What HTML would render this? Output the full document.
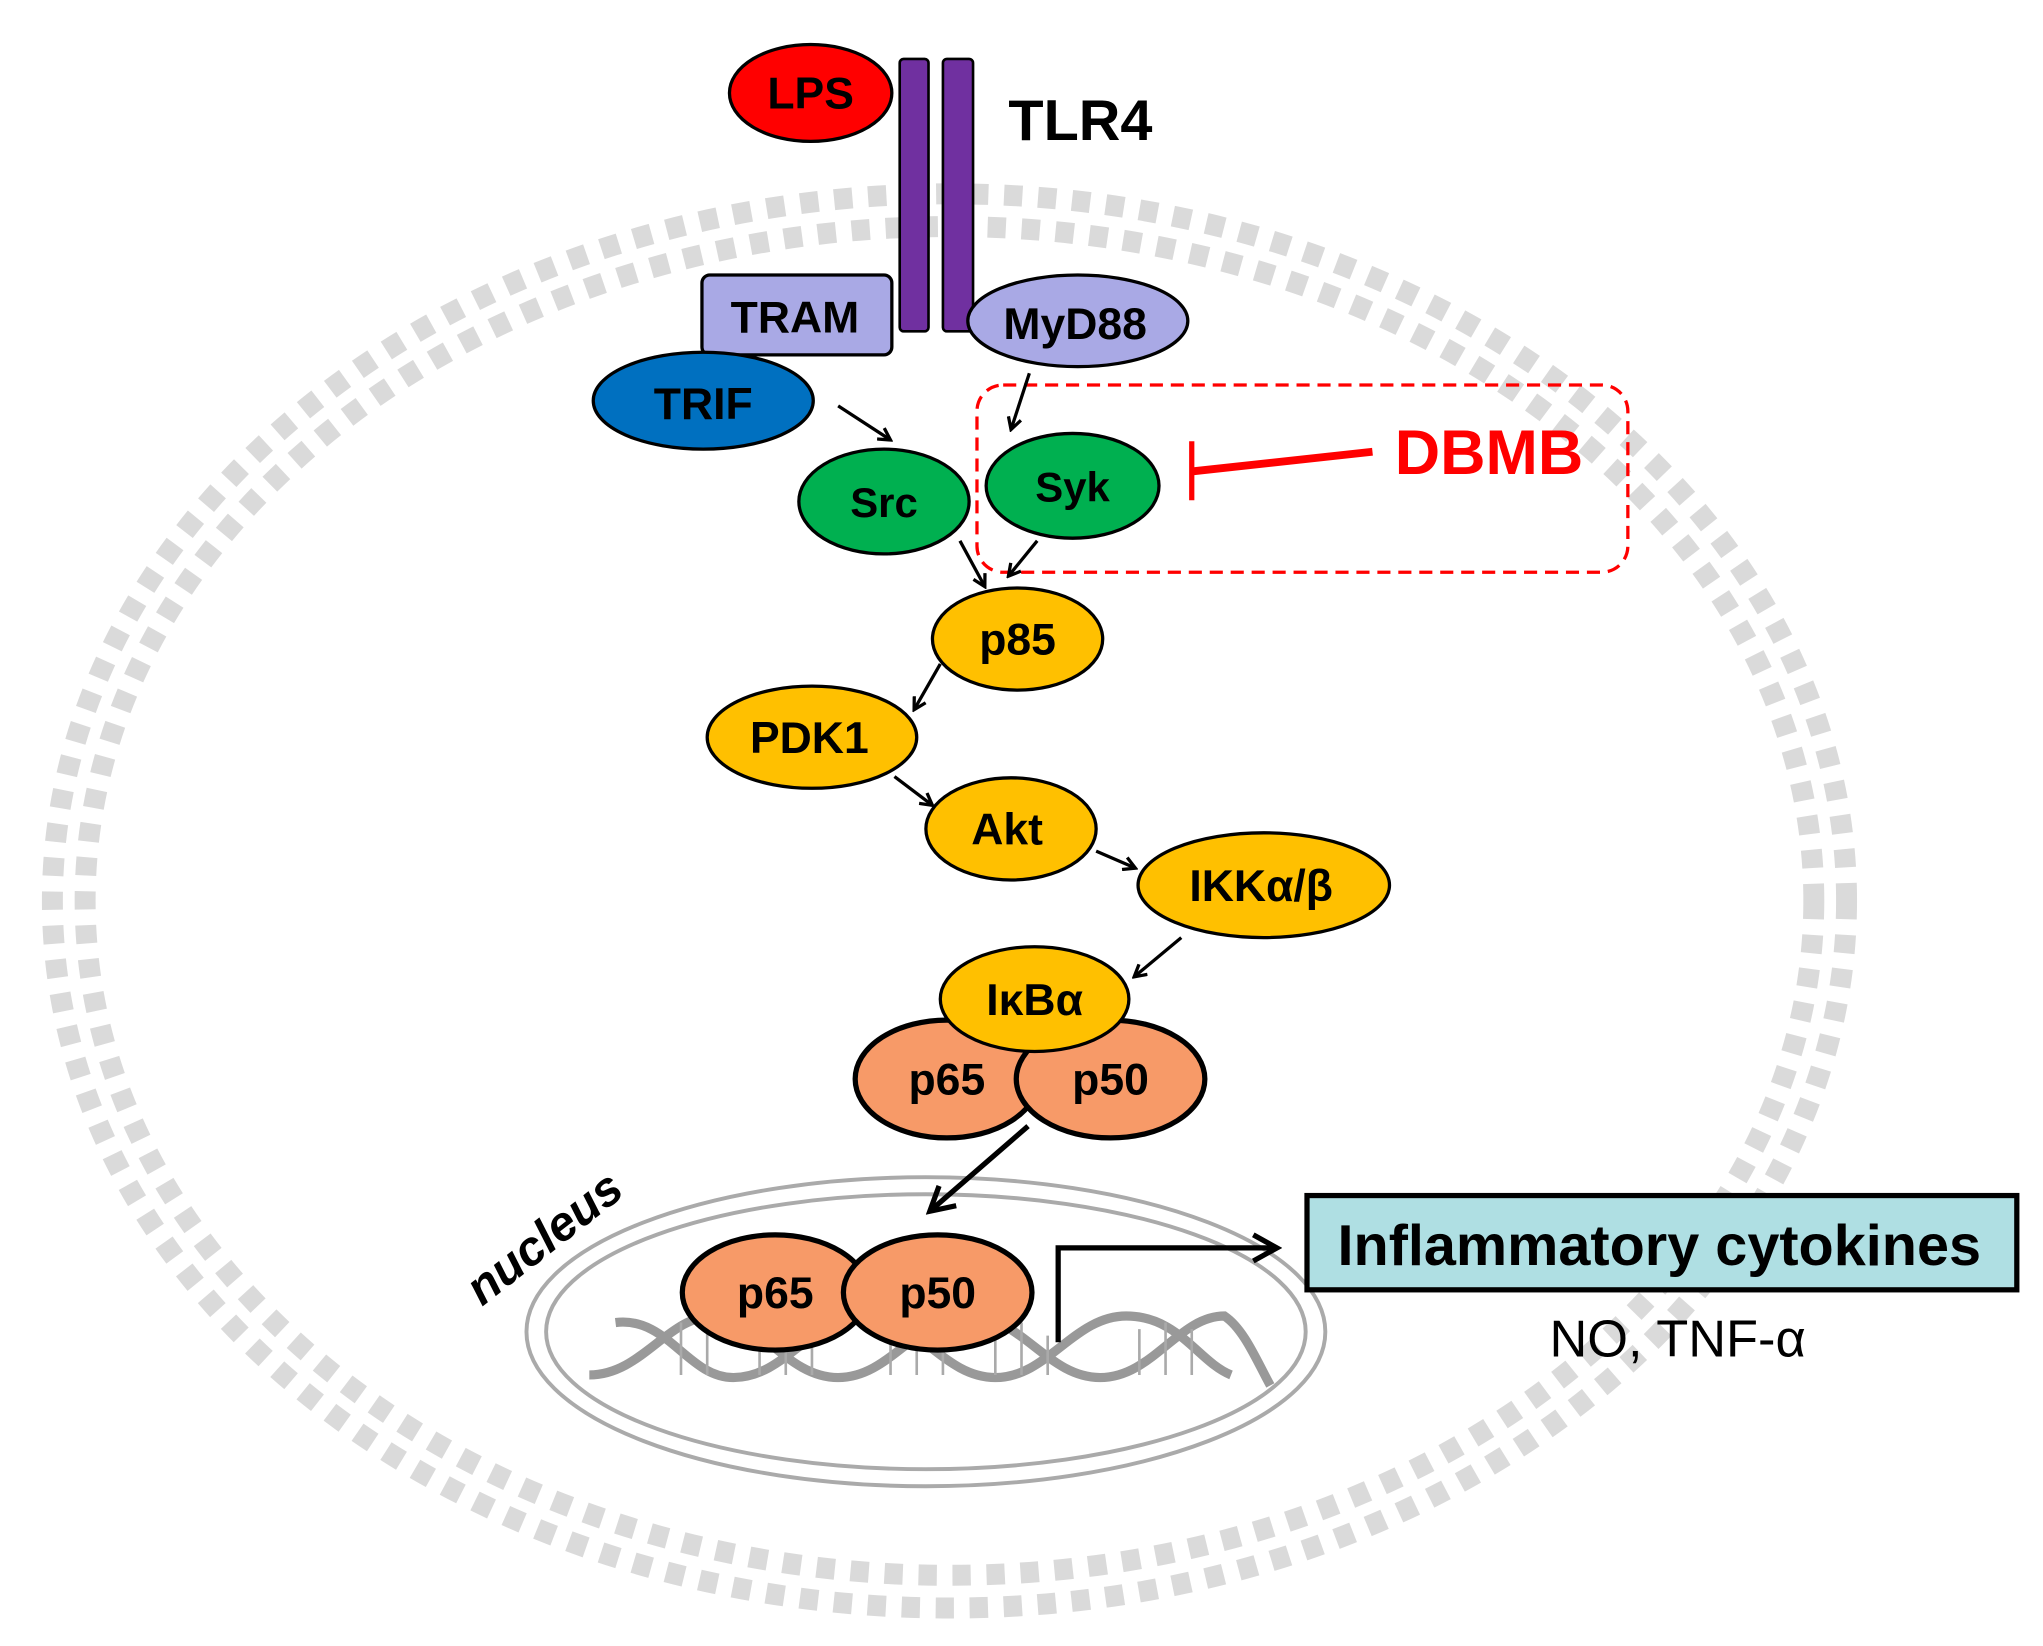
<!DOCTYPE html>
<html><head><style>html,body{margin:0;padding:0;background:#fff}svg{display:block}text{font-family:"Liberation Sans",sans-serif;font-weight:bold}</style></head>
<body>
<svg width="2043" height="1646" viewBox="0 0 1560 1257" preserveAspectRatio="none" xmlns="http://www.w3.org/2000/svg">
<defs>
<marker id="a" markerWidth="12" markerHeight="12" refX="10" refY="6" orient="auto" markerUnits="userSpaceOnUse"><path d="M1,1 L10,6 L1,11" fill="none" stroke="#000" stroke-width="2.5"/></marker>
<marker id="b" markerWidth="24" markerHeight="24" refX="20" refY="12" orient="auto" markerUnits="userSpaceOnUse"><path d="M2,2 L20,12 L2,22" fill="none" stroke="#000" stroke-width="4"/></marker>
</defs>
<ellipse cx="725" cy="688" rx="685" ry="540" fill="none" stroke="#dadada" stroke-width="16" stroke-dasharray="14 12"/>
<ellipse cx="725" cy="688" rx="660" ry="515" fill="none" stroke="#dadada" stroke-width="16" stroke-dasharray="14 12"/>
<ellipse cx="707" cy="1017" rx="305" ry="118" fill="none" stroke="#aaa" stroke-width="3"/>
<ellipse cx="707" cy="1017" rx="290" ry="105" fill="none" stroke="#aaa" stroke-width="3"/>
<g fill="none" stroke="#888" stroke-width="7" opacity="0.85">
<path d="M450,1050 C490,1050 510,1005 545,1005 C580,1005 600,1052 640,1052 C680,1052 700,1005 740,1005 C780,1005 800,1052 840,1052 C880,1052 900,1005 935,1005 C950,1015 960,1040 970,1058"/>
<path d="M470,1010 C510,1005 525,1052 560,1052 C600,1052 620,1005 660,1005 C700,1005 720,1052 760,1052 C800,1052 820,1005 860,1005 C900,1005 915,1040 940,1050"/>
</g>
<g stroke="#aaa" stroke-width="2">
<path d="M520,1010v40M540,1015v35M580,1015v35M600,1020v30M620,1015v35M680,1010v40M700,1020v30M720,1025v25M760,1015v35M780,1010v40M800,1020v30M870,1015v35M890,1010v40M910,1015v35"/>
</g>
<ellipse cx="619" cy="71" rx="62" ry="37" fill="#f00" stroke="#000" stroke-width="2.5"/>
<text x="619" y="83" font-size="34" text-anchor="middle">LPS</text>
<rect x="687" y="45" width="22" height="208" rx="3" fill="#7030a0" stroke="#000" stroke-width="2"/>
<rect x="720" y="45" width="23" height="208" rx="3" fill="#7030a0" stroke="#000" stroke-width="2"/>
<text x="770" y="107" font-size="44">TLR4</text>
<rect x="536" y="210" width="145" height="61" rx="6" fill="#a9a9e5" stroke="#000" stroke-width="2.5"/>
<text x="607" y="254" font-size="34" text-anchor="middle">TRAM</text>
<ellipse cx="823" cy="245" rx="84" ry="35" fill="#a9a9e5" stroke="#000" stroke-width="2.5"/>
<text x="821" y="259" font-size="34" text-anchor="middle">MyD88</text>
<ellipse cx="537" cy="306" rx="84" ry="37" fill="#0070c0" stroke="#000" stroke-width="2.5"/>
<text x="537" y="320" font-size="34" text-anchor="middle">TRIF</text>
<rect x="746" y="294" width="497" height="143" rx="20" fill="none" stroke="#f00" stroke-width="2.5" stroke-dasharray="10 6"/>
<ellipse cx="675" cy="383" rx="65" ry="40" fill="#00b050" stroke="#000" stroke-width="2.5"/>
<text x="675" y="395" font-size="32" text-anchor="middle">Src</text>
<ellipse cx="819" cy="371" rx="66" ry="40" fill="#00b050" stroke="#000" stroke-width="2.5"/>
<text x="819" y="383" font-size="32" text-anchor="middle">Syk</text>
<text x="1065" y="362" font-size="48" fill="#f00">DBMB</text>
<path d="M1048,345 L910,360" stroke="#f00" stroke-width="6"/>
<path d="M910,337 L910,382" stroke="#f00" stroke-width="4"/>
<ellipse cx="777" cy="488" rx="65" ry="39" fill="#ffc000" stroke="#000" stroke-width="2.5"/>
<text x="777" y="500" font-size="34" text-anchor="middle">p85</text>
<ellipse cx="620" cy="563" rx="80" ry="39" fill="#ffc000" stroke="#000" stroke-width="2.5"/>
<text x="618" y="575" font-size="34" text-anchor="middle">PDK1</text>
<ellipse cx="772" cy="633" rx="65" ry="39" fill="#ffc000" stroke="#000" stroke-width="2.5"/>
<text x="769" y="645" font-size="34" text-anchor="middle">Akt</text>
<ellipse cx="965" cy="676" rx="96" ry="40" fill="#ffc000" stroke="#000" stroke-width="2.5"/>
<text x="963" y="688" font-size="34" text-anchor="middle">IKKα/β</text>
<ellipse cx="723" cy="824" rx="70" ry="45" fill="#f79a68" stroke="#000" stroke-width="4"/>
<ellipse cx="848" cy="824" rx="72" ry="45" fill="#f79a68" stroke="#000" stroke-width="4"/>
<text x="723" y="836" font-size="34" text-anchor="middle">p65</text>
<text x="848" y="836" font-size="34" text-anchor="middle">p50</text>
<ellipse cx="790" cy="763" rx="72" ry="40" fill="#ffc000" stroke="#000" stroke-width="2.5"/>
<text x="790" y="775" font-size="34" text-anchor="middle">IκBα</text>
<ellipse cx="592" cy="987" rx="71" ry="44" fill="#f79a68" stroke="#000" stroke-width="4"/>
<ellipse cx="716" cy="987" rx="72" ry="44" fill="#f79a68" stroke="#000" stroke-width="4"/>
<text x="592" y="999" font-size="34" text-anchor="middle">p65</text>
<text x="716" y="999" font-size="34" text-anchor="middle">p50</text>
<text x="0" y="0" font-size="37" font-style="italic" transform="translate(368,998) rotate(-38)">nucleus</text>
<g stroke="#000" stroke-width="2.5" fill="none" marker-end="url(#a)">
<path d="M640,310 L680,336"/>
<path d="M786,285 L772,328"/>
<path d="M733,413 L752,448"/>
<path d="M792,413 L770,440"/>
<path d="M718,507 L698,542"/>
<path d="M683,593 L712,615"/>
<path d="M837,650 L867,663"/>
<path d="M902,716 L866,746"/>
</g>
<path d="M785,860 L710,925" stroke="#000" stroke-width="4" fill="none" marker-end="url(#b)"/>
<path d="M808,1025 L808,953 L975,953" stroke="#000" stroke-width="4" fill="none" marker-end="url(#b)"/>
<rect x="998" y="913" width="542" height="72" fill="#afdfe3" stroke="#000" stroke-width="4"/>
<text x="1267" y="966" font-size="44" text-anchor="middle">Inflammatory cytokines</text>
<text x="1281" y="1036" font-size="40" text-anchor="middle" style="font-weight:normal">NO, TNF-α</text>
</svg>
</body></html>
